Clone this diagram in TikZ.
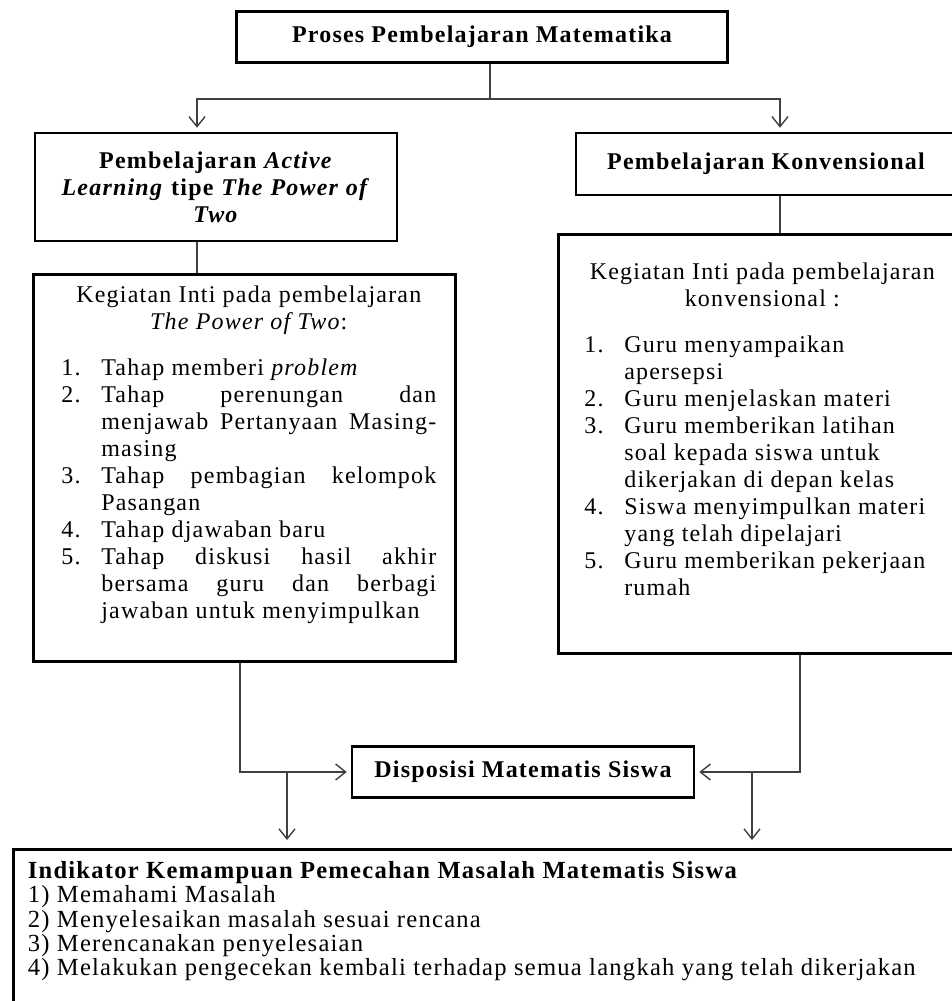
\documentclass[tikz,border=0pt]{standalone}
\usepackage{fontspec}
\setmainfont{Liberation Serif}[LetterSpace=5]
\usetikzlibrary{arrows.meta}

\newcommand{\butir}[2]{\hangindent=20pt\hangafter=1\noindent\makebox[20pt][l]{#1}#2\par}

\tikzset{
  kotak/.style={draw,line width=1.3pt,inner sep=0pt,font=\fontsize{12}{13.5}\selectfont},
  judul/.style={kotak,font=\bfseries\fontsize{12}{13.5}\selectfont,align=center},
  garis/.style={draw=black!75,line width=0.7pt},
  panah/.style={garis,-{Straight Barb[length=5pt,width=8pt]},shorten >=2pt}
}

\begin{document}
\begin{tikzpicture}[x=0.5pt,y=-0.5pt]
\useasboundingbox (0,0) rectangle (952,1001);

% Kotak
\node[judul,minimum width=245.5pt,minimum height=25.5pt] (proses) at (482,37) {Proses Pembelajaran Matematika};
\node[judul,minimum width=181pt,minimum height=54pt,text width=175pt] (aktif) at (216,187) {Pembelajaran \textit{Active}\\ \textit{Learning} tipe \textit{The Power of}\\ \textit{Two}};
\node[judul,minimum width=190pt,minimum height=31pt] (konv) at (766,164) {Pembelajaran Konvensional};

\node[kotak,anchor=north west,minimum width=211pt,minimum height=193.5pt] (akeg) at (32,273) {\hspace*{4.5pt}\parbox[c][193.5pt][t]{187.5pt}{\vspace*{6pt}
{\centering Kegiatan Inti pada pembelajaran\\ \textit{The Power of Two}:\par}
\vspace{9.5pt}
\butir{1.}{Tahap memberi \textit{problem}}
\butir{2.}{Tahap perenungan dan\linebreak menjawab Pertanyaan Masing-\linebreak masing}
\butir{3.}{Tahap pembagian kelompok\linebreak Pasangan}
\butir{4.}{Tahap djawaban baru}
\butir{5.}{Tahap diskusi hasil akhir\linebreak bersama guru dan berbagi\linebreak jawaban untuk menyimpulkan}}};

\node[kotak,anchor=north west,minimum width=199.5pt,minimum height=209.5pt] (bkeg) at (557,233) {\hspace*{4.5pt}\parbox[c][209.5pt][t]{178pt}{\vspace*{14.5pt}
{\centering Kegiatan Inti pada pembelajaran\\ konvensional :\par}
\vspace{9.5pt}\raggedright
\butir{1.}{Guru menyampaikan\newline apersepsi}
\butir{2.}{Guru menjelaskan materi}
\butir{3.}{Guru memberikan latihan\newline soal kepada siswa untuk\newline dikerjakan di depan kelas}
\butir{4.}{Siswa menyimpulkan materi\newline yang telah dipelajari}
\butir{5.}{Guru memberikan pekerjaan\newline rumah}}};

\node[judul,minimum width=171pt,minimum height=25.5pt] (disp) at (523,772) {Disposisi Matematis Siswa};

\node[kotak,anchor=north west,minimum width=472.5pt,minimum height=80pt] (indi) at (12,848) {\parbox[c][80pt][t]{458pt}{\fontsize{12.3}{12.2}\selectfont\vspace*{6pt}
\textbf{Indikator Kemampuan Pemecahan Masalah Matematis Siswa}\\
1) Memahami Masalah\\
2) Menyelesaikan masalah sesuai rencana\\
3) Merencanakan penyelesaian\\
4) Melakukan pengecekan kembali terhadap semua langkah yang telah dikerjakan}};

% Garis
\coordinate (cabang) at (490,99);
\coordinate (ki) at (197,99);
\coordinate (ka) at (780,99);
\draw[garis] (proses.south -| cabang) -- (cabang);
\draw[panah] (cabang) -- (ki) -- (ki |- aktif.north);
\draw[panah] (cabang) -- (ka) -- (ka |- konv.north);
\draw[garis] (ki |- aktif.south) -- (ki |- akeg.north);
\draw[garis] (ka |- konv.south) -- (ka |- bkeg.north);

\coordinate (kibawah) at (240,772);
\coordinate (kabawah) at (800,772);
\draw[panah] (kibawah |- akeg.south) -- (kibawah) -- (disp.west);
\draw[panah] (kabawah |- bkeg.south) -- (kabawah) -- (disp.east);
\coordinate (turunki) at (287,772);
\coordinate (turunka) at (752,772);
\draw[panah,shorten >=4pt] (turunki) -- (turunki |- indi.north);
\draw[panah,shorten >=4pt] (turunka) -- (turunka |- indi.north);
\end{tikzpicture}
\end{document}
